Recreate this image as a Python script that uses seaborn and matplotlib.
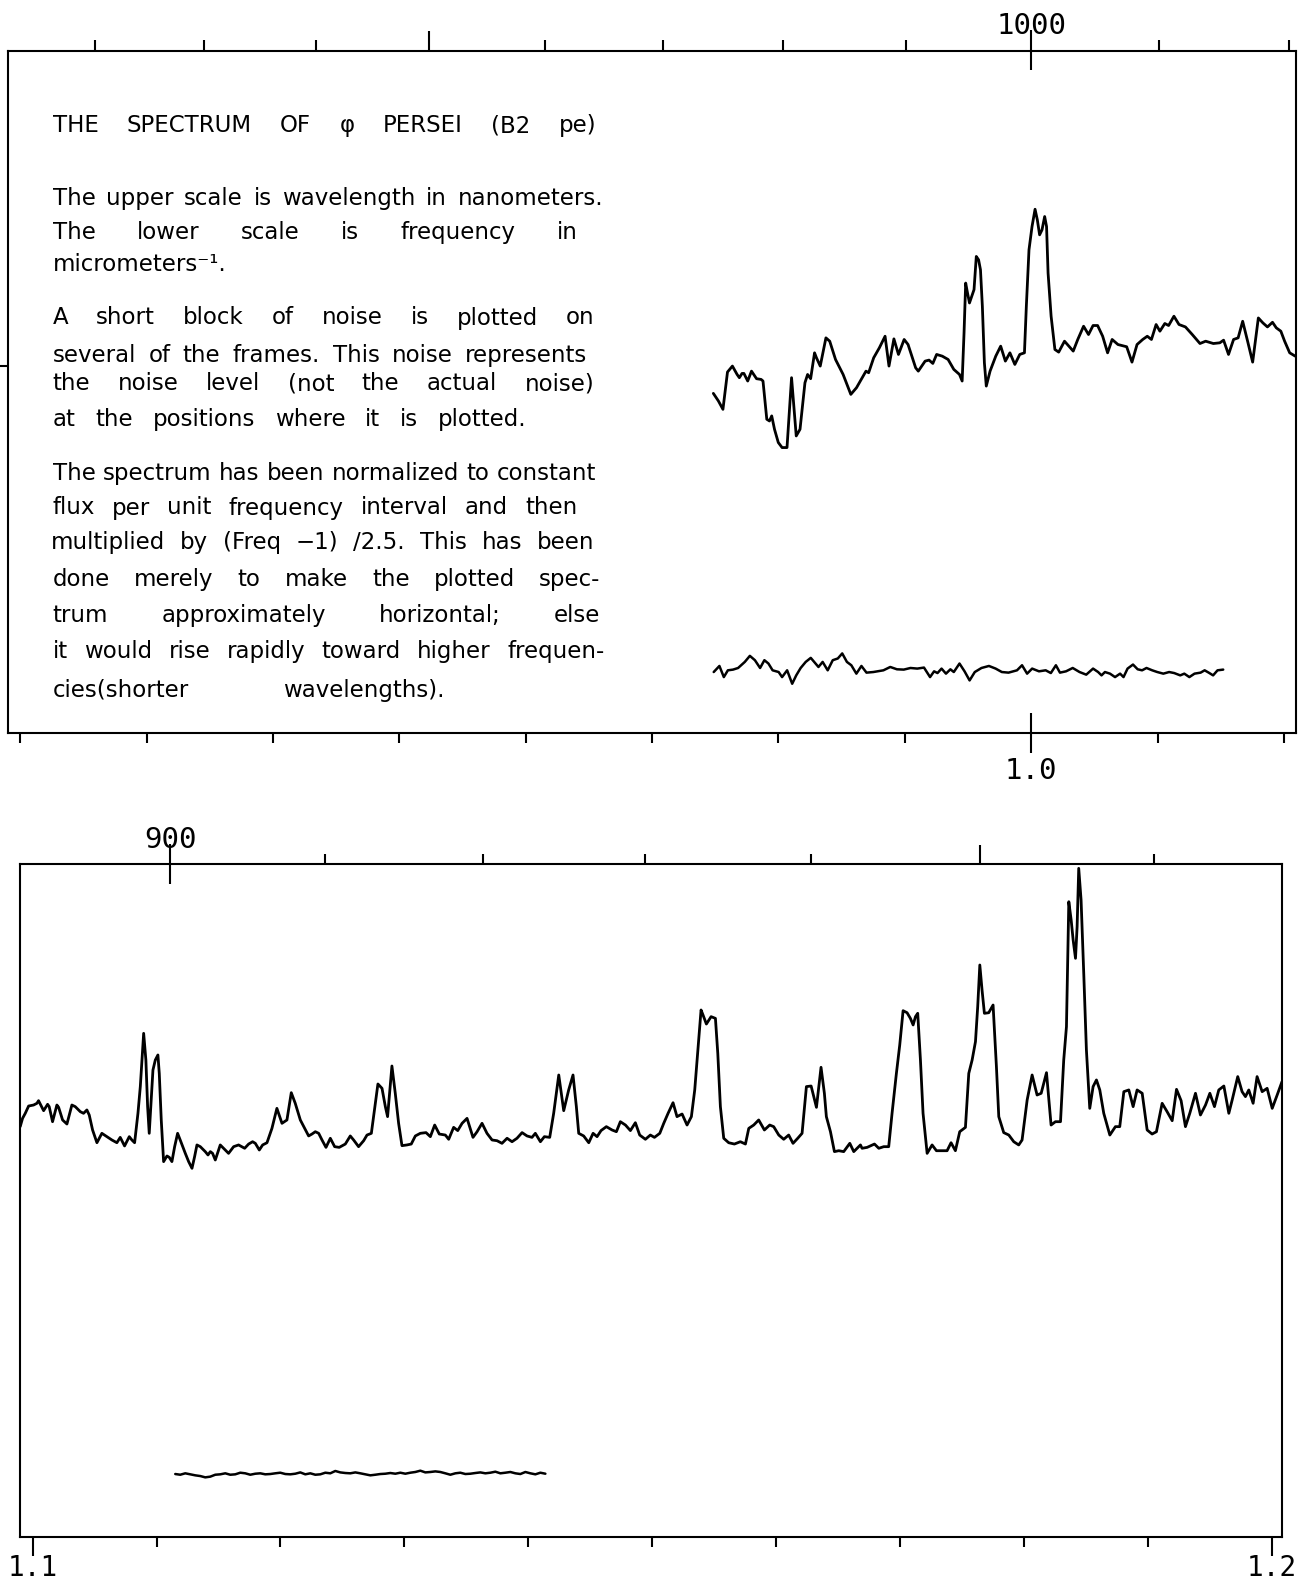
import numpy as np
import matplotlib
matplotlib.use("Agg")
import matplotlib.pyplot as plt
import matplotlib.transforms as mtransforms
from matplotlib.ticker import FixedLocator
import seaborn as sns

# ---------------------------------------------------------------------------
# Spectrum of phi Persei (B2 pe).  Frequency in micrometers^-1, flux in
# arbitrary plotted units (normalised flux x (Freq-1)/2.5, shifted for display).
# ---------------------------------------------------------------------------

# upper frame: 0.92 - 1.02 um^-1
upper_freq = [
    0.97485, 0.97525, 0.97561, 0.97597, 0.97636, 0.97673, 0.97691, 0.97712, 0.97727, 0.97757,
    0.97787, 0.97827, 0.97863, 0.97878, 0.97908, 0.97929, 0.97947, 0.97969, 0.97999, 0.98029,
    0.98068, 0.98104, 0.98141, 0.98171, 0.98210, 0.98231, 0.98255, 0.98286, 0.98301, 0.98331,
    0.98376, 0.98406, 0.98452, 0.98512, 0.98573, 0.98618, 0.98693, 0.98714, 0.98754, 0.98799,
    0.98844, 0.98875, 0.98914, 0.98950, 0.98995, 0.99026, 0.99086, 0.99107, 0.99161, 0.99192,
    0.99222, 0.99252, 0.99297, 0.99343, 0.99388, 0.99433, 0.99454, 0.99469, 0.99482, 0.99494,
    0.99512, 0.99530, 0.99548, 0.99566, 0.99584, 0.99599, 0.99614, 0.99630, 0.99645, 0.99675,
    0.99720, 0.99759, 0.99796, 0.99832, 0.99871, 0.99910, 0.99947, 0.99962, 0.99983, 1.00007,
    1.00031, 1.00049, 1.00067, 1.00086, 1.00107, 1.00122, 1.00134, 1.00158, 1.00188, 1.00218,
    1.00264, 1.00333, 1.00369, 1.00415, 1.00454, 1.00490, 1.00526, 1.00566, 1.00605, 1.00641,
    1.00687, 1.00756, 1.00798, 1.00838, 1.00883, 1.00919, 1.00952, 1.00989, 1.01019, 1.01058,
    1.01088, 1.01130, 1.01170, 1.01221, 1.01275, 1.01336, 1.01381, 1.01442, 1.01493, 1.01523,
    1.01562, 1.01602, 1.01638, 1.01674, 1.01713, 1.01753, 1.01798, 1.01834, 1.01870, 1.01910,
    1.01940, 1.01976, 1.02006, 1.02046, 1.02090,
]
upper_flux = [
    335.9, 328.4, 320.1, 357.0, 362.9, 354.6, 351.4, 355.6, 355.6, 348.1,
    357.9, 350.4, 349.7, 348.1, 310.3, 308.6, 313.6, 300.4, 287.3, 282.3,
    282.3, 351.4, 293.8, 300.4, 346.4, 354.6, 350.4, 376.0, 371.1, 362.9,
    390.8, 387.5, 369.4, 354.6, 334.9, 341.5, 357.9, 356.3, 371.1, 381.0,
    392.4, 362.9, 389.8, 374.4, 389.2, 384.2, 361.2, 357.9, 367.8, 368.8,
    365.5, 374.4, 372.7, 369.4, 359.6, 354.6, 348.1, 395.7, 445.0, 436.8,
    425.3, 431.9, 438.5, 471.3, 468.0, 458.2, 422.0, 366.1, 343.1, 357.9,
    372.7, 382.6, 367.8, 376.0, 364.5, 374.4, 376.0, 422.0, 477.9, 500.9,
    518.0, 507.5, 492.7, 497.6, 510.8, 500.9, 454.9, 412.2, 379.3, 376.7,
    387.5, 377.7, 389.2, 402.3, 394.1, 403.0, 403.0, 392.4, 376.0, 389.2,
    384.2, 382.0, 366.8, 384.2, 389.2, 392.4, 389.2, 404.0, 397.4, 405.0,
    403.0, 412.2, 404.0, 401.6, 394.1, 385.2, 387.5, 385.2, 385.9, 388.5,
    374.4, 389.2, 390.8, 407.2, 387.5, 366.8, 410.5, 405.6, 401.6, 406.2,
    400.7, 397.4, 387.5, 376.0, 372.7,
]

# noise-level sample plotted in the upper frame
upper_noise_freq = [
    0.97488, 0.97533, 0.97568, 0.97600, 0.97641, 0.97681, 0.97734, 0.97774, 0.97814, 0.97855,
    0.97889, 0.97921, 0.97954, 0.98002, 0.98029, 0.98069, 0.98109, 0.98141, 0.98176, 0.98216,
    0.98256, 0.98283, 0.98317, 0.98350, 0.98390, 0.98430, 0.98470, 0.98505, 0.98542, 0.98577,
    0.98617, 0.98657, 0.98697, 0.98751, 0.98831, 0.98885, 0.98938, 0.98992, 0.99045, 0.99099,
    0.99152, 0.99200, 0.99232, 0.99259, 0.99291, 0.99326, 0.99361, 0.99388, 0.99433, 0.99473,
    0.99513, 0.99554, 0.99607, 0.99666, 0.99719, 0.99768, 0.99821, 0.99888, 0.99928, 0.99968,
    1.00008, 1.00062, 1.00115, 1.00156, 1.00196, 1.00228, 1.00276, 1.00329, 1.00383, 1.00436,
    1.00490, 1.00530, 1.00557, 1.00584, 1.00624, 1.00664, 1.00704, 1.00731, 1.00763, 1.00806,
    1.00843, 1.00878, 1.00913, 1.00958, 1.00998, 1.01046, 1.01092, 1.01132, 1.01180, 1.01212,
    1.01252, 1.01293, 1.01341, 1.01373, 1.01405, 1.01440, 1.01475, 1.01520,
]
upper_noise_flux = [
    60.3, 66.3, 55.3, 62.0, 62.7, 64.3, 70.3, 76.3, 72.0, 64.3,
    72.0, 68.7, 62.0, 60.3, 55.3, 62.0, 48.7, 57.0, 64.3, 70.3,
    74.3, 70.3, 65.3, 70.3, 62.0, 72.0, 73.7, 78.7, 70.3, 67.0,
    58.7, 66.3, 59.7, 60.3, 62.0, 65.3, 63.0, 62.7, 64.3, 63.7,
    64.7, 55.3, 61.0, 59.3, 63.7, 58.7, 63.0, 60.3, 68.7, 61.0,
    52.0, 60.3, 64.3, 66.3, 63.7, 60.3, 59.7, 62.0, 67.0, 58.7,
    63.7, 61.0, 62.0, 59.3, 67.0, 59.7, 61.0, 64.3, 60.3, 57.7,
    63.7, 60.3, 57.0, 60.3, 58.7, 55.3, 58.7, 55.3, 63.7, 67.7,
    63.0, 62.0, 64.3, 62.0, 60.3, 58.7, 60.3, 59.3, 57.0, 58.7,
    55.3, 58.7, 59.7, 62.0, 59.7, 57.0, 62.0, 62.7,
]

# lower frame: 1.10 - 1.20 um^-1
lower_freq = [
    1.09900, 1.09919, 1.09941, 1.09968, 1.10008, 1.10035, 1.10048, 1.10070, 1.10089, 1.10121,
    1.10134, 1.10161, 1.10196, 1.10210, 1.10242, 1.10277, 1.10317, 1.10344, 1.10385, 1.10411,
    1.10438, 1.10457, 1.10484, 1.10519, 1.10559, 1.10600, 1.10640, 1.10680, 1.10707, 1.10742,
    1.10780, 1.10801, 1.10823, 1.10850, 1.10869, 1.10896, 1.10914, 1.10928, 1.10941, 1.10957,
    1.10971, 1.10990, 1.11011, 1.11022, 1.11038, 1.11057, 1.11084, 1.11103, 1.11124, 1.11146,
    1.11170, 1.11191, 1.11232, 1.11259, 1.11286, 1.11307, 1.11326, 1.11353, 1.11393, 1.11415,
    1.11434, 1.11452, 1.11474, 1.11514, 1.11541, 1.11581, 1.11622, 1.11662, 1.11711, 1.11743,
    1.11775, 1.11797, 1.11829, 1.11856, 1.11891, 1.11931, 1.11971, 1.12012, 1.12052, 1.12087,
    1.12119, 1.12160, 1.12195, 1.12227, 1.12254, 1.12281, 1.12308, 1.12335, 1.12367, 1.12402,
    1.12437, 1.12474, 1.12523, 1.12563, 1.12590, 1.12630, 1.12671, 1.12698, 1.12733, 1.12751,
    1.12786, 1.12819, 1.12846, 1.12864, 1.12899, 1.12926, 1.12953, 1.12980, 1.13020, 1.13055,
    1.13088, 1.13128, 1.13174, 1.13209, 1.13244, 1.13281, 1.13330,
    1.13357, 1.13397, 1.13430, 1.13465, 1.13505, 1.13553, 1.13586, 1.13626, 1.13666, 1.13707,
    1.13747, 1.13787, 1.13828, 1.13868, 1.13908, 1.13949, 1.13989, 1.14029, 1.14056, 1.14097,
    1.14129, 1.14172, 1.14204, 1.14245, 1.14285, 1.14325, 1.14360, 1.14387, 1.14406, 1.14446,
    1.14487, 1.14522, 1.14554, 1.14586, 1.14629, 1.14675, 1.14710, 1.14742, 1.14783, 1.14823,
    1.14863, 1.14898, 1.14944, 1.14984, 1.15017, 1.15060, 1.15092, 1.15127, 1.15167, 1.15199,
    1.15240, 1.15280, 1.15315, 1.15342, 1.15369, 1.15393, 1.15409, 1.15436, 1.15474, 1.15509,
    1.15528, 1.15549, 1.15576, 1.15616, 1.15662, 1.15710, 1.15751, 1.15778, 1.15818, 1.15858,
    1.15904, 1.15947, 1.15979, 1.16020, 1.16060, 1.16100, 1.16135, 1.16173, 1.16208, 1.16243,
    1.16281, 1.16324, 1.16361, 1.16388, 1.16404, 1.16437, 1.16469, 1.16504, 1.16544, 1.16593,
    1.16625, 1.16679,
    1.16692, 1.16733, 1.16792, 1.16827, 1.16867, 1.16907, 1.16934, 1.16969, 1.16996, 1.17023,
    1.17055, 1.17082, 1.17104, 1.17123, 1.17141, 1.17163, 1.17184, 1.17217, 1.17257, 1.17292,
    1.17338, 1.17378, 1.17410, 1.17445, 1.17480, 1.17526, 1.17553, 1.17580, 1.17607, 1.17625,
    1.17642, 1.17660, 1.17679, 1.17714, 1.17749, 1.17776, 1.17795, 1.17835, 1.17876, 1.17916,
    1.17956, 1.17983, 1.18024, 1.18064, 1.18104, 1.18137, 1.18180, 1.18217, 1.18252, 1.18293,
    1.18319, 1.18341, 1.18360, 1.18379, 1.18395, 1.18414, 1.18427, 1.18440, 1.18459, 1.18481,
    1.18502, 1.18529, 1.18556, 1.18583, 1.18610, 1.18642, 1.18691, 1.18736, 1.18771, 1.18804,
    1.18844, 1.18879, 1.18911, 1.18952, 1.18992, 1.19032, 1.19067, 1.19113, 1.19153, 1.19194,
    1.19229, 1.19266, 1.19301, 1.19336, 1.19382, 1.19422, 1.19463, 1.19498, 1.19535, 1.19570,
    1.19611, 1.19651, 1.19678, 1.19723, 1.19758, 1.19785, 1.19812, 1.19847, 1.19879, 1.19920,
    1.19960, 1.20001, 1.20041, 1.20080,
]
lower_flux = [
    405.5, 413.7, 418.7, 425.9, 426.9, 428.6, 431.2, 425.9, 421.3, 427.6,
    425.3, 410.4, 426.9, 424.6, 412.1, 408.1, 426.9, 425.3, 420.3, 418.7,
    422.0, 417.0, 402.2, 389.6, 398.9, 395.6, 392.3, 389.6, 394.9, 386.4,
    395.6, 392.3, 389.6, 418.7, 445.1, 497.8, 471.4, 425.3, 398.9, 431.9,
    461.5, 471.4, 476.4, 458.2, 412.1, 370.9, 376.5, 375.1, 370.9, 385.7,
    398.9, 392.3, 379.1, 370.9, 364.3, 375.8, 387.4, 385.7, 380.8, 377.5,
    380.8, 379.1, 372.5, 387.4, 384.1, 379.1, 385.7, 387.4, 384.1, 388.3,
    390.6, 389.0, 382.4, 387.4, 389.6, 403.8, 423.6, 408.8, 412.1, 439.1,
    428.6, 412.1, 403.8, 396.3, 398.2, 400.5, 398.9, 392.3, 385.0, 394.0,
    385.7, 385.0, 388.3, 396.3, 392.3, 385.7, 391.6, 397.2, 398.9, 415.4,
    447.7, 443.4, 425.3, 415.4, 465.5, 438.5, 408.8, 386.7, 387.4, 388.3,
    396.3, 398.9, 399.6, 395.6, 407.1, 398.2, 397.2,
    393.0, 404.8, 401.6, 408.8, 413.7, 394.9, 400.5, 408.8, 398.9, 392.3,
    391.6, 389.0, 394.0, 390.6, 394.0, 399.6, 396.3, 394.9, 398.9, 390.6,
    395.6, 394.9, 418.7, 456.6, 421.3, 441.8, 456.6, 425.3, 398.9, 396.3,
    389.6, 398.9, 395.6, 401.6, 405.5, 402.2, 400.5, 410.4, 407.1, 401.6,
    409.4, 397.2, 393.0, 397.2, 394.9, 398.9, 408.8, 418.7, 429.2, 415.4,
    418.0, 407.1, 415.4, 441.8, 483.0, 520.9, 515.9, 507.0, 514.3, 512.6,
    478.0, 425.3, 394.0, 389.6, 388.3, 390.6, 388.3, 403.8, 407.1, 412.1,
    402.2, 407.1, 405.5, 397.2, 393.0, 397.2, 389.0, 394.0, 398.9, 445.1,
    445.7, 424.6, 464.2, 438.5, 415.4, 400.5, 380.8, 381.7, 380.8, 389.0,
    380.8, 387.4,
    384.1, 385.0, 388.3, 384.1, 385.7, 385.7, 418.7, 458.2, 486.3, 520.2,
    518.2, 512.6, 506.1, 514.3, 517.6, 471.4, 418.7, 379.1, 387.4, 381.7,
    381.7, 381.7, 389.6, 381.7, 400.5, 404.8, 458.2, 471.4, 489.6, 524.2,
    565.4, 540.7, 517.6, 518.2, 525.8, 464.8, 415.4, 399.6, 397.2, 390.6,
    387.4, 392.3, 431.9, 456.6, 436.8, 438.5, 458.9, 407.1, 410.4, 410.4,
    471.4, 504.4, 628.0, 609.9, 590.1, 572.0, 603.3, 661.0, 629.7, 555.5,
    481.3, 423.6, 445.1, 451.7, 441.8, 418.7, 397.2, 405.5, 405.5, 440.1,
    441.8, 425.3, 441.8, 438.5, 402.2, 398.2, 400.5, 428.6, 420.3, 411.4,
    442.4, 431.2, 405.5, 418.7, 438.5, 417.0, 426.9, 438.5, 425.3, 441.8,
    445.7, 418.7, 431.9, 455.0, 440.1, 435.2, 441.8, 428.6, 455.0, 440.1,
    443.4, 423.6, 436.8, 450.0,
]

# noise-level sample plotted in the lower frame (evenly sampled block)
lower_noise_start, lower_noise_end = 1.11151, 1.14137
lower_noise_flux = [
    61.9, 61.2, 62.6, 61.6, 60.6, 59.9, 58.6, 59.3, 61.2, 61.6,
    62.6, 61.2, 61.6, 63.2, 62.6, 61.2, 62.2, 62.6, 61.6, 61.9,
    62.6, 63.2, 61.9, 61.6, 62.2, 63.5, 61.6, 62.6, 61.2, 61.6,
    63.2, 62.6, 64.9, 63.5, 62.9, 62.6, 63.5, 62.6, 61.6, 60.6,
    61.2, 61.9, 62.2, 62.9, 62.2, 63.2, 62.2, 63.2, 63.9, 65.2,
    63.5, 63.9, 64.5, 63.9, 62.6, 61.2, 62.6, 63.2, 61.9, 62.2,
    62.9, 63.5, 62.6, 63.2, 64.2, 62.6, 63.2, 63.9, 62.6, 61.9,
    63.9, 62.6, 61.6, 63.2, 62.2,
]

# axis scales
upper_freq_major, upper_freq_labels = [1.00], ["1.0"]
upper_freq_minor = [0.92, 0.93, 0.94, 0.95, 0.96, 0.97, 0.98, 0.99, 1.01, 1.02]
upper_wave_major, upper_wave_labels = [1000], ["1000"]
upper_wave_mid = [1050]
upper_wave_minor = [1080, 1070, 1060, 1040, 1030, 1020, 1010, 990, 980]

lower_freq_major, lower_freq_labels = [1.10, 1.20], ["1.1", "1.2"]
lower_freq_minor = [1.11, 1.12, 1.13, 1.14, 1.15, 1.16, 1.17, 1.18, 1.19]
lower_wave_major, lower_wave_labels = [900], ["900"]
lower_wave_mid = [850]
lower_wave_minor = [890, 880, 870, 860, 840]

upper_flux_mark = [363]

# caption lines
caption_lines = [
    "THE SPECTRUM OF φ PERSEI (B2 pe)",
    "The upper scale is wavelength in nanometers.",
    "The lower scale is frequency in",
    "micrometers⁻¹.",
    "A short block of noise is plotted on",
    "several of the frames. This noise represents",
    "the noise level (not the actual noise)",
    "at the positions where it is plotted.",
    "The spectrum has been normalized to constant",
    "flux per unit frequency interval and then",
    "multiplied by (Freq −1) /2.5. This has been",
    "done merely to make the plotted spec-",
    "trum approximately horizontal; else",
    "it would rise rapidly toward higher frequen-",
    "cies(shorter wavelengths).",
]

# ---------------------------------------------------------------------------
sns.set_theme(style="white", rc={
    "axes.edgecolor": "black",
    "axes.linewidth": 1.5,
    "xtick.color": "black",
    "ytick.color": "black",
})
plt.rcParams["font.family"] = ["DejaVu Sans"]

W, H = 1302, 1585
fig = plt.figure(figsize=(W / 100, H / 100), dpi=100)
fig.patch.set_facecolor("white")


def frame(left, top, right, bottom):
    return fig.add_axes([left / W, 1 - bottom / H, (right - left) / W, (bottom - top) / H])


ax_u = frame(8.1, 50.5, 1296.0, 733.0)
ax_l = frame(20.2, 864.3, 1282.0, 1536.6)


def trace(ax, x, y, lw):
    sns.lineplot(x=np.asarray(x, float), y=np.asarray(y, float), ax=ax, color="black",
                 linewidth=lw, estimator=None, sort=False, legend=False)


trace(ax_u, upper_freq, upper_flux, 2.0)
trace(ax_u, upper_noise_freq, upper_noise_flux, 1.8)
trace(ax_l, lower_freq, lower_flux, 2.0)
trace(ax_l, np.linspace(lower_noise_start, lower_noise_end, len(lower_noise_flux)),
      lower_noise_flux, 1.8)

LABEL_FONT = "DejaVu Sans Mono"


def wavelength(nu):
    nu = np.asarray(nu, float)
    with np.errstate(divide="ignore", invalid="ignore"):
        return 1000.0 / nu


def dress(ax, xlim, ylim, fmaj, flab, fmin, fdir, flen, fpad, fsize,
          wmaj, wlab, wmid, wmin, wpad):
    ax.set_xlim(*xlim)
    ax.set_ylim(*ylim)
    ax.set_xlabel("")
    ax.set_ylabel("")
    for s in ax.spines.values():
        s.set_visible(True)
        s.set_color("black")
        s.set_linewidth(1.5)
    ax.set_xticks(fmaj, labels=flab)
    ax.xaxis.set_minor_locator(FixedLocator(fmin))
    ax.tick_params(axis="x", which="major", direction=fdir, length=flen, width=1.5,
                   pad=fpad, labelsize=fsize, labelfontfamily=LABEL_FONT,
                   bottom=True, top=False, labelbottom=True)
    ax.tick_params(axis="x", which="minor", direction="out", length=7, width=1.5,
                   bottom=True, top=False)
    ax.set_yticks([])

    sec = ax.secondary_xaxis("top", functions=(wavelength, wavelength))
    sec.set_xticks(wmaj, labels=wlab)
    sec.xaxis.set_minor_locator(FixedLocator(wmin))
    sec.tick_params(which="major", direction="inout", length=29, width=1.5, pad=wpad,
                    labelsize=21, labelfontfamily=LABEL_FONT)
    sec.tick_params(which="minor", direction="out", length=7, width=1.5)
    sec.spines["top"].set_visible(False)

    sec2 = ax.secondary_xaxis("top", functions=(wavelength, wavelength))
    sec2.set_xticks(wmid, labels=[""] * len(wmid))
    sec2.xaxis.set_minor_locator(FixedLocator([]))
    sec2.tick_params(which="major", direction="out", length=14, width=1.5)
    sec2.spines["top"].set_visible(False)


dress(ax_u, (0.91904, 1.02096), (0, 675),
      upper_freq_major, upper_freq_labels, upper_freq_minor, "inout", 29, 3, 21,
      upper_wave_major, upper_wave_labels, upper_wave_mid, upper_wave_minor, -7)
dress(ax_l, (1.0990, 1.2008), (0, 665),
      lower_freq_major, lower_freq_labels, lower_freq_minor, "out", 14, -1.5, 20,
      lower_wave_major, lower_wave_labels, lower_wave_mid, lower_wave_minor, -7)

# short reference mark on the left edge of the upper frame
ax_u.set_yticks(upper_flux_mark, labels=[""])
ax_u.tick_params(axis="y", which="major", direction="out", length=6, width=1.5,
                 left=True, right=False)

# caption: each line spread between its left and right margins (pixel layout)
px = mtransforms.Affine2D().scale(1.0 / W, -1.0 / H).translate(0, 1) + fig.transFigure
caption_layout = [  # (left, right, baseline) in pixels
    (52.6, 596.4, 132.4),
    (52.6, 603.5, 205.2),
    (52.6, 578.2, 238.6),
    (52.6, 278.0, 270.9),
    (52.6, 594.4, 324.5),
    (52.6, 587.3, 361.9),
    (52.6, 594.4, 390.2),
    (52.6, 526.7, 425.6),
    (52.6, 596.4, 480.2),
    (52.6, 577.2, 514.5),
    (50.5, 594.4, 548.9),
    (52.6, 600.5, 586.3),
    (52.6, 600.5, 621.7),
    (52.6, 604.5, 658.1),
    (52.6, 444.8, 696.5),
]
renderer = fig.canvas.get_renderer()
for line, (left, right, base) in zip(caption_lines, caption_layout):
    words = line.split()
    items = [fig.text(0, 0, w, transform=px, fontsize=16.5, color="black",
                      ha="left", va="baseline") for w in words]
    widths = [t.get_window_extent(renderer).width for t in items]
    gap = (right - left - sum(widths)) / max(len(words) - 1, 1)
    x = left
    for t, w in zip(items, widths):
        t.set_position((x, base))
        x += w + gap

fig.savefig("out.png", dpi=100, facecolor="white")
